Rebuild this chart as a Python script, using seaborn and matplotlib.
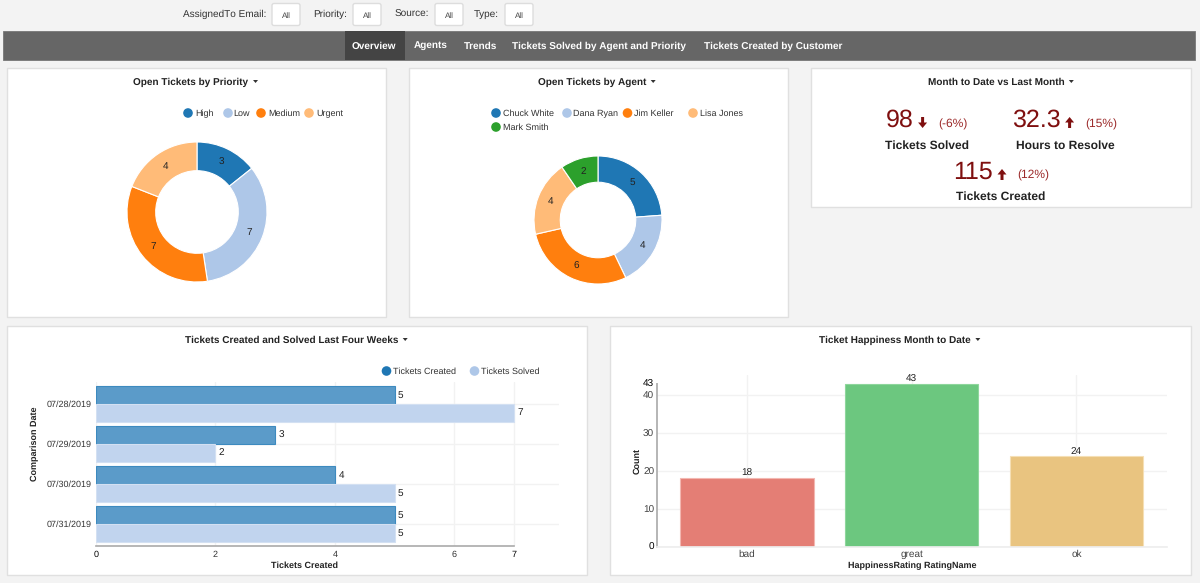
import pandas as pd
import matplotlib.pyplot as plt
from matplotlib.patches import Rectangle, FancyBboxPatch, Circle, Polygon
import seaborn as sns

priority_names = ["High", "Low", "Medium", "Urgent"]
priority_counts = [3, 7, 7, 4]
agent_names = ["Chuck White", "Dana Ryan", "Jim Keller", "Lisa Jones", "Mark Smith"]
agent_counts = [5, 4, 6, 4, 2]
dates = ["07/28/2019", "07/29/2019", "07/30/2019", "07/31/2019"]
created = [5, 3, 4, 5]
solved = [7, 2, 5, 5]
ratings = ["bad", "great", "ok"]
rating_counts = [18, 43, 24]
nav_items = ["Overview", "Agents", "Trends", "Tickets Solved by Agent and Priority", "Tickets Created by Customer"]
filter_names = ["AssignedTo Email:", "Priority:", "Source:", "Type:"]

colors = ["#1f77b4", "#aec7e8", "#ff7f0e", "#ffbb78", "#2ca02c"]
dark_red = "#7f0f0f"

sns.set_theme(style="whitegrid")
plt.rcParams["font.family"] = ["Liberation Sans", "DejaVu Sans"]
plt.rcParams["text.hinting"] = "no_hinting"
plt.rcParams["text.hinting_factor"] = 1
plt.rcParams["grid.color"] = "#f2f2f2"
plt.rcParams["grid.linewidth"] = 1

fig = plt.figure(figsize=(12, 5.83), dpi=100, facecolor="#f3f3f3")

# background layer, works in screen pixels
bg = fig.add_axes([0, 0, 1, 1], zorder=0)
bg.set_xlim(0, 1200)
bg.set_ylim(583, 0)
bg.axis("off")


def px_axes(x0, y0, x1, y1):
    ax = fig.add_axes([x0 / 1200, 1 - y1 / 583, (x1 - x0) / 1200, (y1 - y0) / 583], zorder=2)
    ax.patch.set_alpha(0)
    return ax


def panel(x0, y0, x1, y1, title, tx, ty):
    bg.add_patch(Rectangle((x0, y0), x1 - x0, y1 - y0, fc="white", ec="#e0e0e0", lw=1))
    t = bg.text(tx, ty + 1, title, ha="center", va="center", fontsize=7.4, fontweight="bold", color="#222222")
    fig.canvas.draw()
    ext = t.get_window_extent()
    cx = ext.x1 + 7
    bg.add_patch(Polygon([(cx - 2.5, ty - 1), (cx + 2.5, ty - 1), (cx, ty + 2)], fc="#333333", ec="none"))


def legend(items):
    for name, color, dx, tx, ly in items:
        bg.add_patch(Circle((dx, ly), 4.8, fc=color, ec="none"))
        bg.text(tx, ly + 0.8, name, ha="left", va="center", fontsize=6.5, color="#333333")


def donut(box, values, names, ring):
    ax = px_axes(*box)
    wedges, texts, autotexts = ax.pie(
        values, colors=colors[:len(values)], startangle=90, counterclock=False, radius=1,
        wedgeprops=dict(width=ring, edgecolor="white", linewidth=0.8),
        autopct=lambda p: f"{round(p * sum(values) / 100)}", pctdistance=1 - ring / 2,
        textprops=dict(fontsize=7, color="#222222"),
    )
    ax.set_xlim(-1, 1)
    ax.set_ylim(-1, 1)
    return ax


# filter row
for name, right, bx in zip(filter_names, [266, 347, 429, 499], [272, 353, 435, 505]):
    bg.text(right, 14.5, name, ha="right", va="center", fontsize=7.3, color="#333333")
    bg.add_patch(FancyBboxPatch((bx, 3.5), 28, 22, boxstyle="round,pad=0,rounding_size=2",
                                mutation_aspect=1, fc="white", ec="#dddddd", lw=1))
    bg.text(bx + 14, 15.5, "All", ha="center", va="center", fontsize=6, color="#444444")

# nav bar
bg.add_patch(Rectangle((3, 30.5), 1192, 29.5, fc="#666666", ec="#777777", lw=0.6))
bg.add_patch(Rectangle((345, 31), 59.5, 29, fc="#444444", ec="none"))
for name, x in zip(nav_items, [352, 413.5, 464, 512.5, 704.5]):
    bg.text(x, 46, name, ha="left", va="center", fontsize=7.5, fontweight="bold", color="white")

panel(7, 68, 386, 317, "Open Tickets by Priority", 191, 81)
panel(409, 68, 788, 317, "Open Tickets by Agent", 592, 81)
panel(811, 68, 1191, 207, "Month to Date vs Last Month", 996, 81)
panel(7, 326, 587, 575, "Tickets Created and Solved Last Four Weeks", 291.5, 339)
panel(610, 326, 1191, 575, "Ticket Happiness Month to Date", 895, 339)

# donuts
donut((127, 142, 267, 282), priority_counts, priority_names, 0.41)
donut((534, 156, 662, 284), agent_counts, agent_names, 0.41)
legend([(n, c, d, t, 113) for n, c, d, t in zip(priority_names, colors, [188, 228, 261, 309], [195, 233.5, 268, 316])])
legend([(n, c, d, t, y) for n, c, d, t, y in zip(agent_names, colors, [496, 567, 627.5, 693, 496],
                                                 [503, 573, 634, 699.5, 503], [113, 113, 113, 113, 127])])

# month to date numbers
kpis = [
    ("98", 899.5, 120.5, 922.6, "down", "(-6%)", 952.5, 124.5, "Tickets Solved", 927, 145.5),
    ("32.3", 1036.5, 120.5, 1069.6, "up", "(15%)", 1101.5, 124.5, "Hours to Resolve", 1065, 145.5),
    ("115", 973, 172.5, 1002, "up", "(12%)", 1033.5, 175.5, "Tickets Created", 1001, 197),
]
for val, vx, vy, ax_, way, pct, px_, py, name, nx, ny in kpis:
    bg.text(vx, vy, val, ha="center", va="center", fontsize=18, color=dark_red)
    y0, dy = (vy - 3.5, 11) if way == "down" else (vy + 7.5, -11)
    bg.arrow(ax_, y0, 0, dy, width=3, head_width=9, head_length=5.5, length_includes_head=True,
             fc=dark_red, ec="none")
    bg.text(px_, py, pct, ha="center", va="center", fontsize=8.8, color="#9c2a2a")
    bg.text(nx, ny, name, ha="center", va="center", fontsize=8.7, fontweight="bold", color="#222222")

# horizontal bars
df = pd.DataFrame({"date": dates * 2, "count": created + solved,
                   "series": ["Tickets Created"] * 4 + ["Tickets Solved"] * 4})
ax = px_axes(96, 382, 559, 546)
sns.barplot(data=df, x="count", y="date", hue="series", ax=ax, orient="h", width=0.89, legend=False,
            palette=["#5b9bc9", "#c1d4ee"], saturation=1, linewidth=0.8)
for c, edge in zip(ax.containers, ["#3d8abf", "#d3e0f2"]):
    for b in c:
        b.set_edgecolor(edge)
    ax.bar_label(c, padding=2.5, fontsize=7, color="#222222")
ax.set_xlim(0, 463 / 59.7)
ax.set_ylim(3.55, -0.55)
ax.set_xticks([0, 2, 4, 6, 7])
ax.set_axisbelow(True)
ax.grid(True, axis="both")
ax.tick_params(axis="both", length=0, labelsize=6.8, labelcolor="#333333", pad=3)
ax.set_xlabel("Tickets Created", fontsize=6.4, fontweight="bold", color="#222222", va="center")
ax.set_ylabel("Comparison Date", fontsize=6.4, fontweight="bold", color="#222222", va="center")
ax.xaxis.set_label_coords(304.6, 566, transform=bg.transData)
ax.yaxis.set_label_coords(35, 444, transform=bg.transData)
for s in ["top", "right", "left"]:
    ax.spines[s].set_visible(False)
ax.spines["bottom"].set_color("#aaaaaa")
ax.spines["bottom"].set_linewidth(1.2)
ax.spines["bottom"].set_bounds(0, 7)
for lab in ax.get_xticklabels():
    if lab.get_text() in ("0", "7"):
        lab.set_color("#000000")
legend([("Tickets Created", colors[0], 386.5, 393, 371), ("Tickets Solved", colors[1], 474.5, 481, 371)])

# vertical bars
df2 = pd.DataFrame({"rating": ratings, "count": rating_counts})
ax2 = px_axes(657, 375, 1167, 546.7)
sns.barplot(data=df2, x="rating", y="count", hue="rating", ax=ax2, width=0.81, legend=False,
            palette=["#e47e75", "#6cc77f", "#e9c480"], saturation=1, dodge=False)
for c, edge in zip(ax2.containers, ["#f3b7b1", "#8ed69c", "#f5dfb5"]):
    for b in c:
        b.set_edgecolor(edge)
        b.set_linewidth(0.8)
    ax2.bar_label(c, padding=0, fontsize=7.2, color="#222222")
ax2.set_xlim(-0.547, 2.55)
ax2.set_ylim(0, 45.3)
ax2.set_yticks([0, 10, 20, 30, 40, 43])
ax2.set_axisbelow(True)
ax2.grid(True, axis="both")
ax2.get_ygridlines()[-1].set_visible(False)
ax2.tick_params(axis="both", length=0, labelsize=7.2, labelcolor="#444444", pad=2)
ax2.set_xlabel("HappinessRating RatingName", fontsize=6.4, fontweight="bold", color="#222222", va="center")
ax2.set_ylabel("Count", fontsize=6.4, fontweight="bold", color="#222222", va="center")
ax2.xaxis.set_label_coords(912, 566, transform=bg.transData)
ax2.yaxis.set_label_coords(637.5, 461, transform=bg.transData)
for s in ["top", "right"]:
    ax2.spines[s].set_visible(False)
ax2.spines["bottom"].set_color("#eeeeee")
ax2.spines["left"].set_color("#b5b5b5")
ax2.spines["left"].set_linewidth(1.4)
ax2.spines["left"].set_bounds(0, 43)
for lab in ax2.get_yticklabels():
    if lab.get_text() in ("0", "43"):
        lab.set_color("#000000")

fig.savefig("out.png", dpi=100, facecolor=fig.get_facecolor())
